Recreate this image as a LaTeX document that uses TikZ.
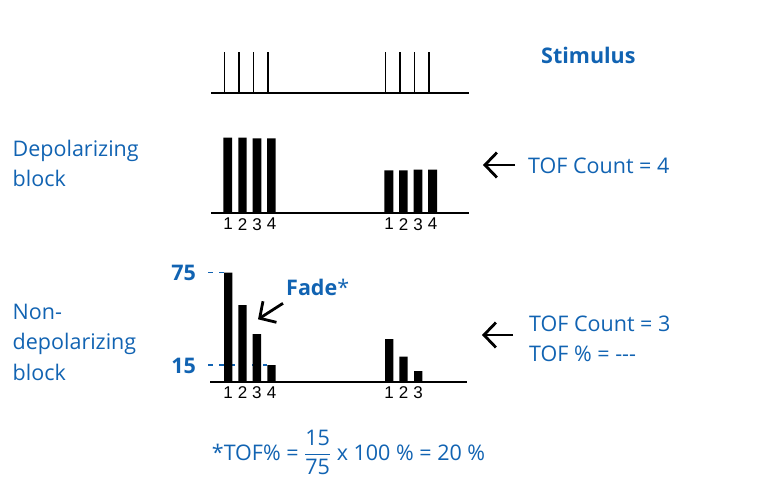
\documentclass[tikz,border=0pt]{standalone}
\usepackage{fontspec}
\usepackage{amsmath}
\setmainfont{Open Sans}
\newfontfamily\digitfont{Liberation Sans}
\usetikzlibrary{arrows.meta}
\definecolor{geblue}{RGB}{17,99,178}

\tikzset{
  txt/.style={text=geblue, inner sep=0pt, align=left, font=\fontsize{21.5}{30.5}\selectfont},
  boldtxt/.style={txt, font=\fontsize{21.5}{30.5}\selectfont\bfseries},
  num/.style={inner sep=0pt, anchor=north, font=\digitfont\fontsize{17}{17}\selectfont},
  axisline/.style={line width=1.6pt},
  spike/.style={line width=1.3pt},
  level/.style={geblue, line width=1.3pt, dash pattern=on 5pt off 6pt},
  ptr/.style={line width=2.8pt, -{Straight Barb[length=12pt,width=25pt]}}
}

\begin{document}
\begin{tikzpicture}[x=1pt,y=-1pt]
  \useasboundingbox (0,0) rectangle (768,486);

  % Stimulus train
  \draw[axisline] (211,93.3) -- (469,93.3);
  \draw[spike] (224.3,93.3) -- (224.3,52.3) (239,93.3) -- (239,52.3)
               (253.3,93.3) -- (253.3,52.3) (268,93.3) -- (268,52.3)
               (385.7,93.3) -- (385.7,52.3) (400,93.3) -- (400,52.3)
               (414.3,93.3) -- (414.3,52.3) (429,93.3) -- (429,52.3);
  \node[boldtxt, anchor=base west] (stim) at (541,63.3) {Stimulus};

  % Depolarizing block
  \fill (223.3,213) rectangle (232,137.7) (238.3,213) rectangle (246.7,137.7)
        (252.7,213) rectangle (261.3,138.3) (267,213) rectangle (275.7,138.3);
  \fill (384.3,213) rectangle (393.3,170.3) (399,213) rectangle (407.7,170.3)
        (413.7,213) rectangle (422.3,169.7) (428,213) rectangle (437,169.7);
  \draw[axisline] (211,213) -- (469,213);
  \node[num] (a1) at (228,218) {1};
  \node[num] (a2) at (242.5,218) {2};
  \node[num] (a3) at (257,218) {3};
  \node[num] (a4) at (271.5,218) {4};
  \node[num] (b1) at (389,218) {1};
  \node[num] (b2) at (403.5,218) {2};
  \node[num] (b3) at (418,218) {3};
  \node[num] (b4) at (432.5,218) {4};
  \node[txt, anchor=base west] (dep) at (12.5,187) {Depolarizing\\block};
  \coordinate (tail4) at (515,165);
  \coordinate (tip4) at (483,165);
  \draw[ptr] (tail4) -- (tip4);
  \node[txt, anchor=base west] (cnt4) at (528,173.3) {TOF Count = 4};

  % Non-depolarizing block
  \draw[level] (208,272.7) -- (224,272.7);
  \draw[level] (208,365) -- (267,365);
  \fill (224,381.7) rectangle (232.3,272.7) (238.3,381.7) rectangle (246.7,305)
        (252.7,381.7) rectangle (261,334) (267.3,381.7) rectangle (275.7,365);
  \fill (385,381.7) rectangle (393.3,339) (399.3,381.7) rectangle (407.7,356.7)
        (414,381.7) rectangle (422.3,371);
  \draw[axisline] (210,381.7) -- (466.7,381.7);
  \node[num] (c1) at (228.2,386.7) {1};
  \node[num] (c2) at (242.5,386.7) {2};
  \node[num] (c3) at (256.8,386.7) {3};
  \node[num] (c4) at (271.5,386.7) {4};
  \node[num] (e1) at (389.2,386.7) {1};
  \node[num] (e2) at (403.5,386.7) {2};
  \node[num] (e3) at (418.2,386.7) {3};
  \node[boldtxt, anchor=east] (v75) at (196,272.8) {75};
  \node[boldtxt, anchor=east] (v15) at (196,365.5) {15};
  \node[txt, anchor=base west] (fade) at (286,295) {\bfseries Fade\mdseries*};
  \coordinate (fadetail) at (283,303.3);
  \coordinate (fadetip) at (258,319.3);
  \draw[ptr] (fadetail) -- (fadetip);
  \node[txt, anchor=base west] (nondep) at (12.5,380) {Non-\\depolarizing\\block};
  \coordinate (tail3) at (513,335);
  \coordinate (tip3) at (482,335);
  \draw[ptr] (tail3) -- (tip3);
  \node[txt, anchor=base west] (cnt3) at (529,361.5) {TOF Count = 3\\TOF \% = {-}{-}{-}};

  % TOF ratio
  \node[txt, anchor=base west] (ratio) at (211.7,460)
    {*TOF\% = $\genfrac{}{}{1.2pt}{0}{\text{15}}{\text{75}}$ x 100 \% = 20 \%};
\end{tikzpicture}
\end{document}
